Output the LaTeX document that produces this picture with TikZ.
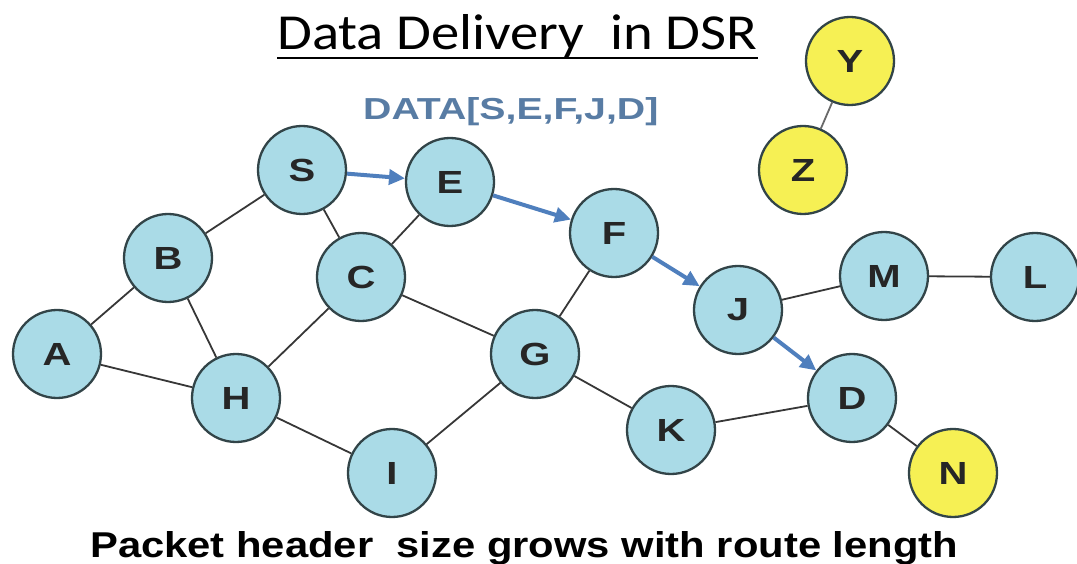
\documentclass[tikz,border=0pt]{standalone}
\usepackage{fontspec}
\setmainfont{Liberation Sans}
\newfontfamily\titlefont{Carlito}
\usetikzlibrary{arrows.meta,calc}
\definecolor{nodeblue}{RGB}{170,219,231}
\definecolor{nodeyellow}{RGB}{246,240,84}
\definecolor{rim}{RGB}{50,68,72}
\definecolor{edgegray}{RGB}{55,55,55}
\definecolor{arrowblue}{RGB}{79,127,189}
\definecolor{datablue}{RGB}{88,124,164}
\tikzset{
  netnode/.style={circle, draw=rim, line width=2.3pt, fill=nodeblue, minimum size=88pt, inner sep=0pt,
    font=\fontsize{32}{32}\selectfont\bfseries, text=black!85},
  farnode/.style={netnode, fill=nodeyellow},
  link/.style={draw=edgegray, line width=1.8pt},
  route/.style={draw=arrowblue, line width=4pt, -{Triangle[length=16pt,width=15pt]}},
}
\newcommand{\wide}[1]{\scalebox{1.25}[1]{#1}}
\begin{document}
\begin{tikzpicture}[x=1pt,y=-1pt]
\useasboundingbox (0,0) rectangle (1077,564);
% nodes
\node[netnode] (S) at (302,170) {\wide{S}};
\node[netnode] (E) at (450,182) {\wide{E}};
\node[netnode] (B) at (168,258) {\wide{B}};
\node[netnode] (C) at (361,277) {\wide{C}};
\node[netnode] (F) at (614,233) {\wide{F}};
\node[netnode] (A) at (57,354) {\wide{A}};
\node[netnode] (H) at (236,398) {\wide{H}};
\node[netnode] (G) at (535,354) {\wide{G}};
\node[netnode] (I) at (392,473) {\wide{I}};
\node[netnode] (K) at (671,430) {\wide{K}};
\node[netnode] (J) at (738,310) {\wide{J}};
\node[netnode] (D) at (852,398) {\wide{D}};
\node[netnode] (M) at (884,276) {\wide{M}};
\node[netnode] (L) at (1035,277) {\wide{L}};
\node[farnode] (N) at (953,473) {\wide{N}};
\node[farnode] (Y) at (850,61) {\wide{Y}};
\node[farnode] (Z) at (803,170) {\wide{Z}};
% links
\draw[link] (A) -- (B);
\draw[link] (A) -- (H);
\draw[link] (B) -- (S);
\draw[link] (B) -- (H);
\draw[link] (S) -- (C);
\draw[link] (C) -- (E);
\draw[link] (C) -- (H);
\draw[link] (C) -- (G);
\draw[link] (H) -- (I);
\draw[link] (I) -- (G);
\draw[link] (G) -- (F);
\draw[link] (G) -- (K);
\draw[link] (K) -- (D);
\draw[link] (J) -- (M);
\draw[link] (M) -- (L);
\draw[link] (D) -- (N);
\draw[link, draw=edgegray!75] (Y) -- (Z);
% route arrows
\draw[route] (S) -- (E);
\draw[route] (E) -- (F);
\draw[route] (F) -- (J);
\draw[route] (J) -- (D);
% texts
\node[anchor=base west, inner sep=0pt] (title) at (277,50)
  {\resizebox{480pt}{35pt}{\titlefont Data Delivery\ \ in DSR}};
\draw[line width=1.8pt] ($(title.base west)+(0,8)$) -- ($(title.base east)+(0,8)$);
\node[anchor=base west, inner sep=0pt, text=datablue] (data) at (363,120)
  {\resizebox{295pt}{22pt}{\bfseries DATA[S,E,F,J,D]}};
\node[anchor=base west, inner sep=0pt] (caption) at (90,557)
  {\resizebox{868pt}{26pt}{\bfseries Packet header\ \ size grows with route length}};
\end{tikzpicture}
\end{document}
